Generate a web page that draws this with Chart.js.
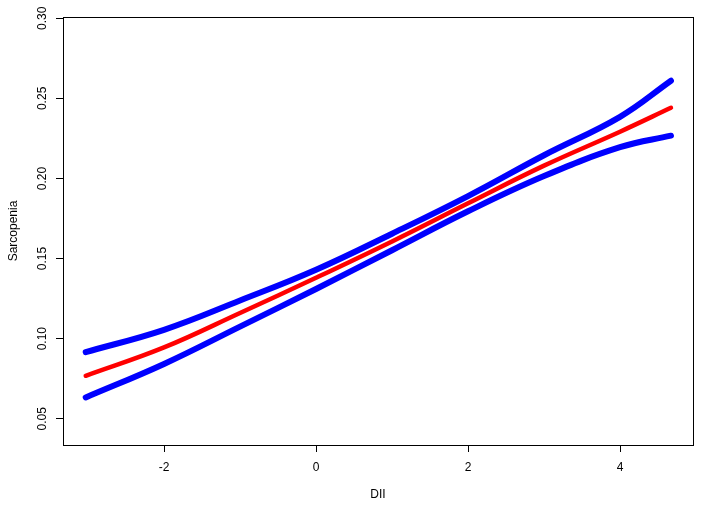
<!DOCTYPE html>
<html>
<head>
<meta charset="utf-8">
<script src="https://cdn.jsdelivr.net/npm/chart.js@4/dist/chart.umd.min.js"></script>
<style>
  html, body { margin: 0; padding: 0; background: #fff; }
  #wrap { width: 702px; height: 509px; }
</style>
</head>
<body>
<div id="wrap"><canvas id="chart"></canvas></div>
<script>
// values
const dii = [-3.03, -2, -1, 0, 1, 2, 3, 4, 4.67];
const fitted = [0.0768, 0.0945, 0.1160, 0.1380, 0.1607, 0.1845, 0.2080, 0.2292, 0.2441];
const upperCI = [0.0916, 0.1055, 0.1238, 0.1430, 0.1655, 0.1890, 0.2145, 0.2385, 0.2610];
const lowerCI = [0.0633, 0.0842, 0.1075, 0.1310, 0.1552, 0.1795, 0.2015, 0.2195, 0.2267];
const xTicks = [-2, 0, 2, 4];
const yTicks = [0.05, 0.10, 0.15, 0.20, 0.25, 0.30];

const toPoints = ys => dii.map((x, i) => ({ x: x, y: ys[i] }));

const boxPlugin = {
  id: 'box',
  afterDraw(chart) {
    const a = chart.chartArea;
    const ctx = chart.ctx;
    ctx.save();
    ctx.strokeStyle = '#000';
    ctx.lineWidth = 1;
    ctx.strokeRect(Math.round(a.left) + 0.5, Math.round(a.top) + 0.5,
      Math.round(a.right - a.left), Math.round(a.bottom - a.top));
    ctx.restore();
  }
};

const font = { family: '"Liberation Sans", Arial, sans-serif', size: 12 };

function line(data, color, width) {
  return {
    data: toPoints(data),
    borderColor: color,
    borderWidth: width,
    borderCapStyle: 'round',
    borderJoinStyle: 'round',
    pointRadius: 0,
    fill: false,
    tension: 0.4
  };
}

new Chart(document.getElementById('chart'), {
  type: 'line',
  data: {
    datasets: [
      line(upperCI, '#0000ff', 6),
      line(lowerCI, '#0000ff', 6),
      line(fitted, '#ff0000', 4.5)
    ]
  },
  options: {
    responsive: true,
    maintainAspectRatio: false,
    animation: false,
    events: [],
    layout: { padding: { top: 17, right: 9, left: 0, bottom: 0 } },
    plugins: { legend: { display: false }, tooltip: { enabled: false } },
    scales: {
      x: {
        type: 'linear',
        min: -3.329,
        max: 4.96,
        afterBuildTicks: s => { s.ticks = xTicks.map(v => ({ value: v })); },
        afterFit: s => { s.height = 64; },
        grid: { drawOnChartArea: false, tickLength: 7, color: '#000' },
        border: { display: false },
        ticks: { color: '#000', font: font, padding: 8, maxRotation: 0, callback: v => String(v) },
        title: { display: true, text: 'DII', color: '#000', font: font, padding: { top: 0, bottom: 7 } }
      },
      y: {
        type: 'linear',
        min: 0.0336,
        max: 0.3008,
        afterBuildTicks: s => { s.ticks = yTicks.map(v => ({ value: v })); },
        afterFit: s => { s.width = 63; },
        grid: { drawOnChartArea: false, tickLength: 7, color: '#000' },
        border: { display: false },
        ticks: { color: '#000', font: font, padding: 2, minRotation: 90, maxRotation: 90,
          crossAlign: 'center', callback: v => v.toFixed(2) },
        title: { display: true, text: 'Sarcopenia', color: '#000', font: font, padding: { top: 6, bottom: 0 } }
      }
    }
  },
  plugins: [boxPlugin]
});
</script>
</body>
</html>
